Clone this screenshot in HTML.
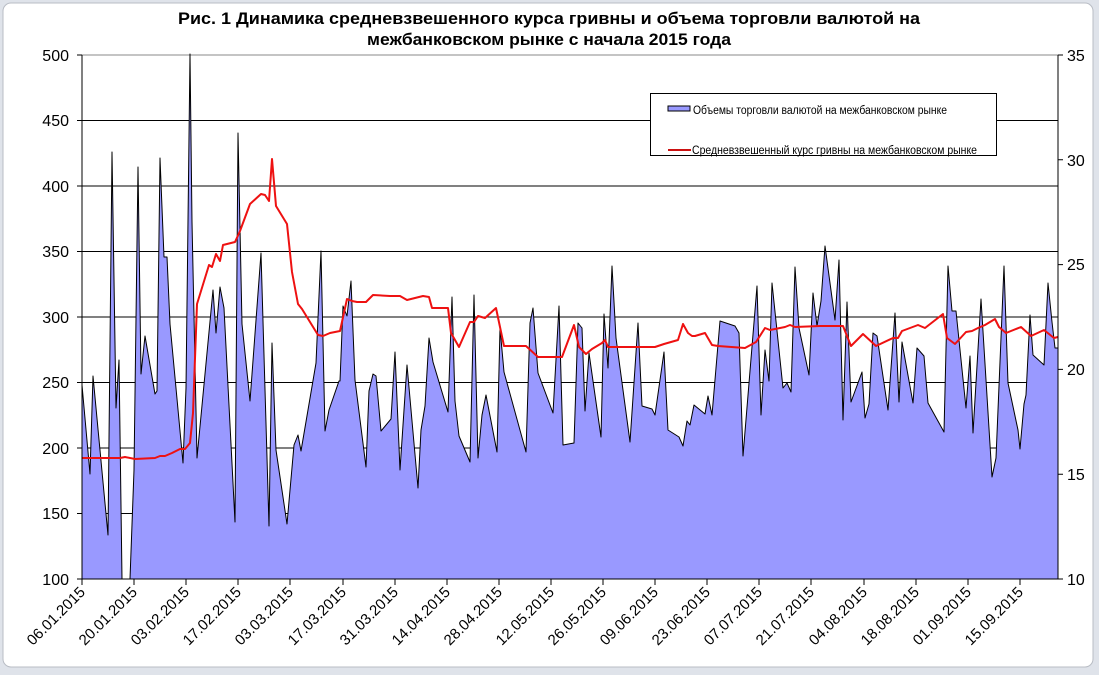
<!DOCTYPE html>
<html><head><meta charset="utf-8"><style>
html,body{margin:0;padding:0;background:#fff;}
svg{display:block;font-family:"Liberation Sans",sans-serif;}
</style></head><body>
<svg width="1099" height="675" viewBox="0 0 1099 675" xmlns="http://www.w3.org/2000/svg">
<rect x="0" y="0" width="1099" height="675" fill="#dfe3ea"/>
<rect x="3" y="3" width="1090" height="664" rx="8" fill="#fff" stroke="#b8bcc4"/>
<text x="549" y="24" text-anchor="middle" font-size="17" font-weight="bold" textLength="742" lengthAdjust="spacingAndGlyphs">Рис. 1 Динамика средневзвешенного курса гривны и объема торговли валютой на</text>
<text x="549" y="45" text-anchor="middle" font-size="17" font-weight="bold" textLength="364" lengthAdjust="spacingAndGlyphs">межбанковском рынке с начала 2015 года</text>
<g stroke="#000" stroke-width="1">
<line x1="82" y1="55" x2="1058" y2="55" stroke="#888"/>
<line x1="82" y1="120.5" x2="1058" y2="120.5"/>
<line x1="82" y1="186" x2="1058" y2="186"/>
<line x1="82" y1="251.5" x2="1058" y2="251.5"/>
<line x1="82" y1="317" x2="1058" y2="317"/>
<line x1="82" y1="382.5" x2="1058" y2="382.5"/>
<line x1="82" y1="448" x2="1058" y2="448"/>
<line x1="82" y1="513.5" x2="1058" y2="513.5"/>
</g>
<path fill="#9999ff" stroke="#000" stroke-width="1" stroke-linejoin="round" d="M82,579 L82,385 90,474 93,376 108,535 112,152 116,408 119,360 122,579 130,579 134,470 138,167 141,374 145,336 155,394 157,391 160,158 164,257 167,257 170,324 183,463 186,388 190,54 192,222 197,458 213,290 216,333 220,287 224,308 235,522 238,133 242,324 250,401 261,253 269,526 272,343 276,450 287,524 294,445 298,435 301,451 316,363 321,251 325,431 329,410 339,381 340,381 343,306 347,316 351,281 355,380 366,467 369,391 373,374 376,376 381,431 391,419 395,352 400,470 407,365 418,488 421,430 425,406 429,338 433,362 448,412 452,297 455,401 459,436 470,462 474,295 478,458 482,415 486,395 497,452 500,328 504,372 526,452 530,323 533,308 538,373 553,413 559,306 563,445 574,443 578,323 582,328 585,411 589,353 601,437 604,314 608,368 612,266 616,338 630,442 638,323 642,406 652,409 655,415 664,352 668,430 679,437 683,446 687,421 690,425 694,405 705,414 708,396 712,415 720,321 735,326 739,333 743,456 757,286 761,415 765,350 769,381 772,283 783,388 787,383 791,392 795,267 799,328 809,375 813,293 817,326 821,301 825,246 835,320 839,260 843,420 847,302 851,402 862,372 865,418 869,404 873,333 877,336 888,410 895,313 899,402 902,342 913,403 917,348 924,356 928,403 944,432 948,266 952,311 956,311 966,408 970,356 973,433 981,299 992,477 996,458 1004,266 1008,383 1018,430 1020,449 1024,404 1026,395 1030,315 1033,355 1044,365 1048,283 1052,322 1055,348 1058,348 L1058,579 Z"/>
<polyline fill="none" stroke="#ee1111" stroke-width="2" stroke-linejoin="round" points="82,458 120,458 125,457 135,459 155,458 160,456 165,456 172,453 180,449 185,449 190,443 193,413 197,304 209,265 212,267 216,254 220,261 223,245 235,242 240,231 250,204 261,194 265,195 269,201 272,159 276,206 287,224 292,272 298,304 302,309 318,335 323,336 330,333 340,331 347,299 352,301 357,302 366,302 373,295 390,296 400,296 407,300 423,296 429,297 432,308 448,308 451,333 459,347 470,322 474,322 478,316 485,318 496,308 504,346 526,346 538,357 552,357 562,357 574,325 579,347 586,354 592,349 602,343 605,340 608,347 630,347 655,347 664,344 678,340 683,324 688,333 692,336 695,336 705,333 712,345 718,346 745,348 756,342 765,328 770,330 785,327 790,325 795,327 820,326 843,326 851,346 863,334 876,346 893,338 898,338 902,331 918,325 925,328 943,314 947,338 955,344 966,332 972,331 978,328 985,325 995,319 999,327 1006,333 1021,327 1031,336 1044,330 1054,338 1058,337"/>
<g stroke="#000" stroke-width="1">
<line x1="82" y1="55" x2="82" y2="579"/>
<line x1="1058" y1="55" x2="1058" y2="579"/>
<line x1="77" y1="579" x2="1058" y2="579"/>
</g>
<g stroke="#000" stroke-width="1">
<path d="M77,55h5M77,120.5h5M77,186h5M77,251.5h5M77,317h5M77,382.5h5M77,448h5M77,513.5h5"/>
<path d="M1058,55h5M1058,159.8h5M1058,264.6h5M1058,369.4h5M1058,474.2h5M1058,579h5"/>
<path d="M82,579v6M134,579v6M186,579v6M238,579v6M290,579v6M343,579v6M395,579v6M447,579v6M499,579v6M551,579v6M603,579v6M655,579v6M707,579v6M759,579v6M811,579v6M864,579v6M916,579v6M968,579v6M1020,579v6"/>
</g>
<g font-size="16" text-anchor="end" fill="#000">
<text x="69" y="61">500</text><text x="69" y="126">450</text><text x="69" y="192">400</text><text x="69" y="257">350</text><text x="69" y="323">300</text><text x="69" y="388">250</text><text x="69" y="454">200</text><text x="69" y="519">150</text><text x="69" y="585">100</text>
</g>
<g font-size="16" fill="#000">
<text x="1067" y="61">35</text><text x="1067" y="166">30</text><text x="1067" y="270">25</text><text x="1067" y="375">20</text><text x="1067" y="480">15</text><text x="1067" y="585">10</text>
</g>
<g font-size="15" text-anchor="end" fill="#000">
<text transform="translate(86,593) rotate(-45)">06.01.2015</text>
<text transform="translate(138,593) rotate(-45)">20.01.2015</text>
<text transform="translate(190,593) rotate(-45)">03.02.2015</text>
<text transform="translate(242,593) rotate(-45)">17.02.2015</text>
<text transform="translate(294,593) rotate(-45)">03.03.2015</text>
<text transform="translate(347,593) rotate(-45)">17.03.2015</text>
<text transform="translate(399,593) rotate(-45)">31.03.2015</text>
<text transform="translate(451,593) rotate(-45)">14.04.2015</text>
<text transform="translate(503,593) rotate(-45)">28.04.2015</text>
<text transform="translate(555,593) rotate(-45)">12.05.2015</text>
<text transform="translate(607,593) rotate(-45)">26.05.2015</text>
<text transform="translate(659,593) rotate(-45)">09.06.2015</text>
<text transform="translate(711,593) rotate(-45)">23.06.2015</text>
<text transform="translate(763,593) rotate(-45)">07.07.2015</text>
<text transform="translate(815,593) rotate(-45)">21.07.2015</text>
<text transform="translate(868,593) rotate(-45)">04.08.2015</text>
<text transform="translate(920,593) rotate(-45)">18.08.2015</text>
<text transform="translate(972,593) rotate(-45)">01.09.2015</text>
<text transform="translate(1024,593) rotate(-45)">15.09.2015</text>
</g>
<rect x="650.5" y="93.5" width="346" height="62" fill="#fff" stroke="#000"/>
<rect x="668" y="106" width="22" height="5" fill="#9999ff" stroke="#000" stroke-width="1"/>
<text x="693" y="114" font-size="11.5" textLength="254" lengthAdjust="spacingAndGlyphs">Объемы торговли валютой на межбанковском рынке</text>
<line x1="668" y1="150" x2="691" y2="150" stroke="#cc1111" stroke-width="2"/>
<text x="692" y="154" font-size="11.5" textLength="285" lengthAdjust="spacingAndGlyphs">Средневзвешенный  курс гривны на межбанковском рынке</text>
</svg>
</body></html>
